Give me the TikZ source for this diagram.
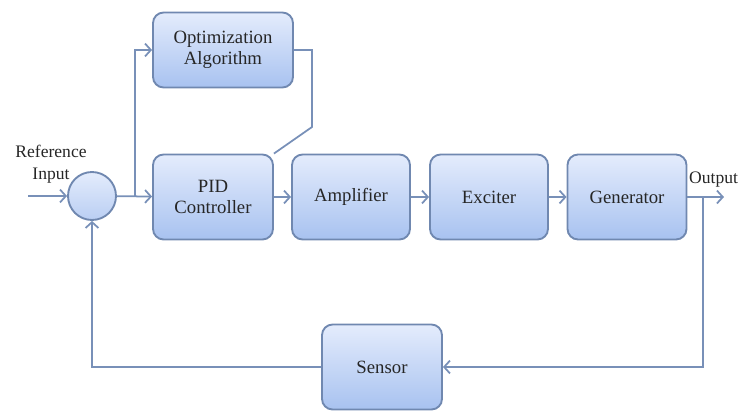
\documentclass[tikz,border=0pt]{standalone}
\usepackage{fontspec}
\setmainfont{Liberation Serif}
\usepackage{tikz}
\usetikzlibrary{arrows.meta}

\definecolor{edge}{HTML}{7088B0}
\definecolor{wire}{HTML}{7890B8}
\definecolor{topfill}{HTML}{E4ECFC}
\definecolor{botfill}{HTML}{A8C2F0}

\tikzset{
blk/.style={draw=edge,line width=1.6pt,rounded corners=9pt,top color=topfill,bottom color=botfill,
  align=center,font=\fontsize{16}{18}\selectfont,text=black!85,inner sep=0pt},
wr/.style={draw=wire,line width=1.5pt},
tip/.style={-{Straight Barb[length=5pt,width=11pt]}},
}

\begin{document}
\begin{tikzpicture}[x=0.03cm,y=-0.03cm]
\useasboundingbox (0,0) rectangle (743,411);
\draw 
(92,196) node[draw=edge,line width=1.6pt,circle,minimum size=48*0.03cm,top color=topfill,bottom color=botfill!80](sum){}
(223,50) node[blk,minimum width=140*0.03cm,minimum height=75*0.03cm](opt){Optimization\\Algorithm}
(213,197) node[blk,minimum width=120*0.03cm,minimum height=85*0.03cm](pid){PID\\Controller}
(351,197) node[blk,minimum width=118*0.03cm,minimum height=85*0.03cm](amp){Amplifier}
(489,197) node[blk,minimum width=118*0.03cm,minimum height=85*0.03cm](exc){Exciter}
(627,197) node[blk,minimum width=119*0.03cm,minimum height=85*0.03cm](gen){Generator}
(382,367) node[blk,minimum width=120*0.03cm,minimum height=85*0.03cm](sen){Sensor}
(51,164) node[font=\fontsize{15}{19}\selectfont,align=center,text=black!85](ref){Reference\\Input}
(689,180) node[font=\fontsize{15}{17}\selectfont,text=black!85,anchor=west,inner sep=0pt](out){Output}
;
\coordinate (in) at (28,196);
\coordinate (br) at (135,196);
\coordinate (tap) at (703,197);
\coordinate (end) at (724,197);
\coordinate (bend) at (312,127);

\foreach \x/\y in {in/sum, sum/pid, pid/amp, amp/exc, exc/gen, gen/end}{
\draw[wr,tip](\x)--(\y);
}
\draw[wr,tip](br)|-(opt);
\draw[wr](opt.east)-|(bend)--(pid.north east);
\draw[wr,tip](tap)|-(sen);
\draw[wr,tip](sen)-|(sum);
\end{tikzpicture}
\end{document}
